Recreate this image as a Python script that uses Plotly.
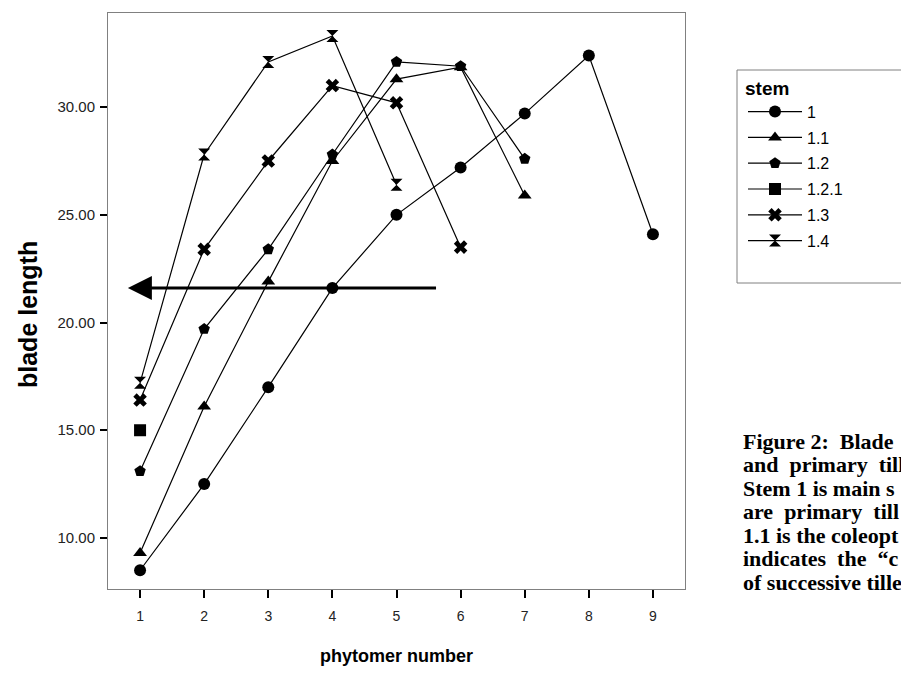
import plotly.graph_objects as go

# ---- data ----
stems = ["1", "1.1", "1.2", "1.2.1", "1.3", "1.4"]
x_1 = [1, 2, 3, 4, 5, 6, 7, 8, 9]
y_1 = [8.5, 12.5, 17.0, 21.6, 25.0, 27.2, 29.7, 32.4, 24.1]
x_11 = [1, 2, 3, 4, 5, 6, 7]
y_11 = [9.3, 16.1, 21.9, 27.5, 31.3, 31.85, 25.9]
x_12 = [1, 2, 3, 4, 5, 6, 7]
y_12 = [13.1, 19.7, 23.4, 27.8, 32.1, 31.9, 27.6]
x_121 = [1]
y_121 = [15.0]
x_13 = [1, 2, 3, 4, 5, 6]
y_13 = [16.4, 23.4, 27.5, 31.0, 30.2, 23.5]
x_14 = [1, 2, 3, 4, 5]
y_14 = [17.2, 27.8, 32.1, 33.3, 26.4]

xs = [x_1, x_11, x_12, x_121, x_13, x_14]
ys = [y_1, y_11, y_12, y_121, y_13, y_14]
symbols = ["circle", "triangle-up", "pentagon", "square", "x", "hourglass"]

x_ticks = [1, 2, 3, 4, 5, 6, 7, 8, 9]
y_ticks = [10, 15, 20, 25, 30]

# arrow (tail -> tip) in data units
arrow_tail = (5.64, 21.6)
arrow_tip = (0.81, 21.6)

NB = "\u00a0"
caption_lines = [
    "Figure 2:" + NB + " Blade",
    "and" + NB + " primary" + NB + " till",
    "Stem 1 is main s",
    "are" + NB + " primary" + NB + " till",
    "1.1 is the coleopt",
    "indicates" + NB + " the" + NB + " \u201cc",
    "of successive tille",
]

fig = go.Figure()
for i, name in enumerate(stems):
    fig.add_trace(go.Scatter(
        x=xs[i], y=ys[i], name=name, legendgroup=name,
        mode="lines+markers",
        line=dict(color="black", width=1.2),
        marker=dict(symbol=symbols[i], size=12, color="black",
                    line=dict(width=0, color="black")),
    ))

OFF = 8  # page body margin
W, H = 909 - OFF, 684 - 2 * OFF
L, T = 108 - OFF, 13 - OFF
pw, ph = 577, 576
R = W - L - pw
B = H - T - ph

def px_x(px):
    return (px - OFF - L) / pw

def px_y(py):
    return (T + ph - (py - OFF)) / ph

annotations = [
    dict(x=arrow_tip[0], y=arrow_tip[1], ax=arrow_tail[0], ay=arrow_tail[1],
         xref="x", yref="y", axref="x", ayref="y", text="",
         showarrow=True, arrowhead=2, arrowsize=1.6, arrowwidth=3,
         arrowcolor="black", standoff=0),
    dict(x=px_x(28), y=px_y(315), xref="paper", yref="paper",
         text="<b>blade length</b>", textangle=-90, showarrow=False,
         xanchor="center", yanchor="middle",
         font=dict(family="Liberation Sans", size=25, color="black")),
]
cap_y0 = 441
cap_dy = 23.5
for k, line in enumerate(caption_lines):
    annotations.append(dict(
        x=px_x(741), y=px_y(cap_y0 + k * cap_dy),
        xref="paper", yref="paper", xanchor="left", yanchor="middle",
        text="<b>" + line + "</b>", showarrow=False,
        font=dict(family="Liberation Serif", size=22, color="black"),
    ))

# legend frame (extends past the right edge as in the reference)
shapes = [
    dict(type="rect", xref="paper", yref="paper",
         x0=px_x(737), x1=px_x(930), y0=px_y(283), y1=px_y(70),
         line=dict(color="#808080", width=1), fillcolor="rgba(0,0,0,0)",
         layer="above"),
]

fig.update_layout(
    width=W, height=H,
    margin=dict(l=L, r=R, t=T, b=B, autoexpand=False),
    paper_bgcolor="white", plot_bgcolor="white",
    font=dict(family="Liberation Sans", color="black"),
    xaxis=dict(
        range=[0.5, 9.5], tickvals=x_ticks, ticks="outside", ticklen=8,
        tickwidth=2, tickcolor="black", showgrid=False, zeroline=False,
        showline=True, mirror=True, linecolor="#808080", linewidth=1,
        tickfont=dict(size=14, color="#222"), ticklabelstandoff=6,
        title=dict(text="<b>phytomer number</b>", font=dict(size=18),
                   standoff=26),
        automargin=False,
    ),
    yaxis=dict(
        range=[7.63, 34.37], tickvals=y_ticks, tickformat=".2f",
        ticks="outside", ticklen=7, tickwidth=2, tickcolor="black",
        showgrid=False, zeroline=False,
        showline=True, mirror=True, linecolor="#808080", linewidth=1,
        tickfont=dict(size=15, color="#222"), ticklabelstandoff=2,
        automargin=False,
    ),
    legend=dict(
        x=px_x(743), y=px_y(70), xanchor="left",
        yanchor="top", borderwidth=0,
        bgcolor="rgba(0,0,0,0)", font=dict(size=16, color="black"),
        title=dict(text="<b>stem</b>", font=dict(size=19)),
        tracegroupgap=2, itemwidth=54,
    ),
    shapes=shapes,
    annotations=annotations,
    showlegend=True,
)

fig.write_html("out.html")
